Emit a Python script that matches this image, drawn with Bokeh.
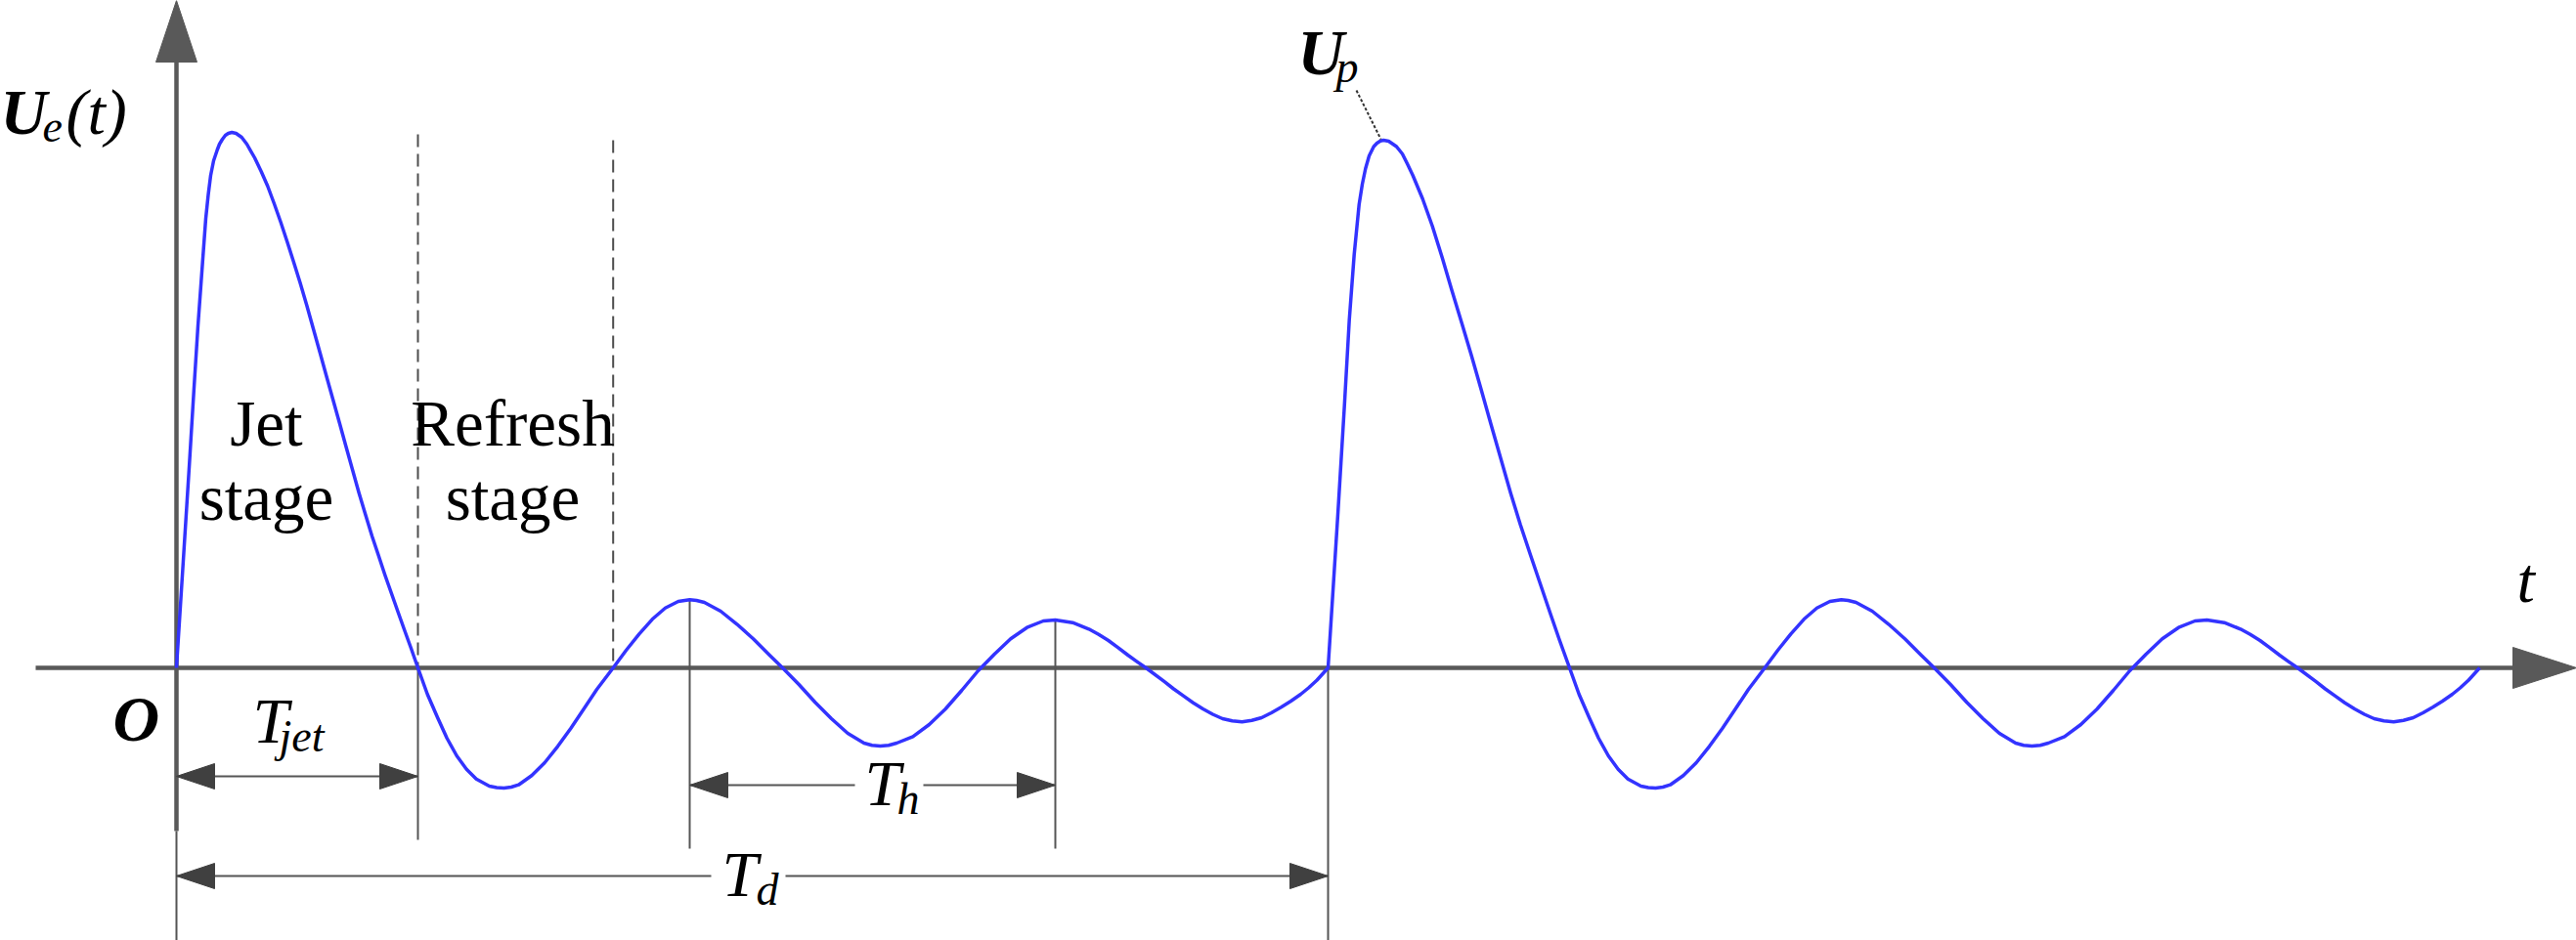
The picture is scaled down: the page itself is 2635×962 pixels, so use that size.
import numpy as np
from bokeh.plotting import figure
from bokeh.models import Range1d
from bokeh.core.properties import value
from bokeh.embed import file_html
from bokeh.resources import INLINE

# ---- data (t: time, arbitrary units; U: exit velocity, arbitrary units) ----
pulse1_t = [0, 7, 13, 18, 22, 26.7, 30, 32.5, 35, 38, 41.7, 44, 47, 50, 53, 56.7, 61, 66.7,
            72, 80, 86.7, 93.3, 100, 106.7, 113.3, 120, 126.7, 133.3, 140, 146.7, 153.3,
            160, 166.7, 173.3, 180, 186.7, 193.3, 200, 206.7, 213.3, 220, 226.7, 233.3,
            240, 247]
pulse1_u = [0, 110, 205, 287, 350, 415, 460, 484, 504, 519, 530, 536, 541, 545, 547, 548, 547, 543,
            536, 522, 508, 493, 475, 456, 436, 415, 393.5, 371, 347, 323, 299,
            275, 251, 227, 203, 179, 157, 135, 115, 95, 76, 57, 38.5,
            20, 0]

pulse2_t = [0, 10, 16.7, 21.7, 26.7, 31.7, 35, 38.3, 42, 46.7, 50, 53.5, 56.7, 62, 70, 76,
            81, 86.7, 96.7, 106.7, 116.7, 126.7, 136.7, 146.7, 156.7, 166.7, 176.7, 186.7,
            196.7, 206.7, 216.7, 226.7, 236.7, 247]
pulse2_u = [0, 157, 268, 356, 423, 474, 495, 511, 524, 533.5, 537, 539.3, 540, 539, 533.5, 526,
            516, 504, 480, 452, 420, 386, 353, 319.5, 284.5, 249, 214, 179,
            146.5, 116.5, 87, 57.5, 28.5, 0]

osc_t = [247, 256.7, 266.7, 276.7, 286.7, 296.7, 306.7, 320, 327.5, 335, 342.5, 350, 363.3,
         376.7, 390, 403.3, 416.7, 430, 446.7, 460, 473.3, 486.7, 500, 513.3, 525, 532, 540,
         556.7, 573.3, 590, 606.7, 620, 636.7, 653.3, 670, 686.7, 703.3, 711.5, 720, 728.5,
         736.7, 753.3, 770, 786.7, 803.3, 820, 836.7, 853.3, 870, 886.7, 899, 916.7, 933.3,
         943.3, 953.3, 963.3, 973.3, 982.5, 991.7, 1010, 1020, 1030, 1040, 1050, 1060, 1070,
         1080, 1090, 1100, 1110, 1120, 1130, 1140, 1150, 1158, 1166.7, 1178]
osc_u = [0, -27, -50, -72, -90, -103.7, -113.7, -121, -122.5, -123, -122, -119.7, -110.3,
         -97, -80.3, -62, -42, -22, 0, 18, 34.7, 49.7, 61.3, 68, 69.7, 69, 67,
         58, 44.7, 29.7, 13, 0, -17, -35.3, -52, -67, -77, -79.2, -80, -79.2,
         -77, -70.3, -58, -42, -23, -3, 14, 29.7, 41.3, 48, 49, 46.3, 39.7,
         34.2, 28, 20.7, 13, 6.4, 0, -13.7, -21.5, -28.7, -35.7, -42, -47.5, -52,
         -54.3, -55.3, -53.7, -51, -46, -40.3, -34, -27, -20.5, -12.5, 0]

T_JET = 247          # end of jet stage
T_REFRESH = 446.7    # end of refresh stage
T_H_START = 525      # first oscillation peak
T_H_END = 899        # second oscillation peak
T_D = 1178           # driving period

# ---- assemble the curve (two driving periods) ----
curve_t = (pulse1_t + osc_t[1:] + [T_D + v for v in pulse2_t[1:]] + [T_D + v for v in osc_t[1:]])
curve_u = (pulse1_u + osc_u[1:] + pulse2_u[1:] + osc_u[1:])

FONT = value("Liberation Serif")
AX = "#595959"
THIN = "#555555"
HEAD = "#404040"

p = figure(width=2635, height=962, output_backend="svg", toolbar_location=None,
           x_range=Range1d(-180, 2455), y_range=Range1d(-279, 683),
           x_axis_type=None, y_axis_type=None, min_border=0)
p.grid.visible = False
p.outline_line_color = None
p.background_fill_color = "white"
p.border_fill_color = "white"

# ---- axes ----
p.segment(x0=[-144], y0=[0], x1=[2390], y1=[0], line_color=AX, line_width=4.5)
p.patch(x=[2390, 2455, 2390], y=[21, 0, -21], fill_color=AX, line_color=AX)
p.segment(x0=[0], y0=[-167], x1=[0], y1=[620], line_color=AX, line_width=4.5)
p.patch(x=[-21, 0, 21], y=[620, 683, 620], fill_color=AX, line_color=AX)
p.segment(x0=[0], y0=[-167], x1=[0], y1=[-279], line_color=THIN, line_width=2)

# ---- stage separators ----
p.segment(x0=[T_JET, T_REFRESH], y0=[546, 540], x1=[T_JET, T_REFRESH], y1=[0, 0],
          line_color="#4d4d4d", line_width=2, line_dash="13 7")

# ---- extension lines ----
u_h0 = float(np.interp(T_H_START, osc_t, osc_u))
u_h1 = float(np.interp(T_H_END, osc_t, osc_u))
p.segment(x0=[T_JET, T_H_START, T_H_END, T_D], y0=[0, u_h0, u_h1, 0],
          x1=[T_JET, T_H_START, T_H_END, T_D], y1=[-176, -185, -185, -279],
          line_color=THIN, line_width=2)

# ---- dimension arrows ----
def dim(x0, x1, y, gap=None):
    if gap is None:
        p.segment(x0=[x0], y0=[y], x1=[x1], y1=[y], line_color=THIN, line_width=2)
    else:
        p.segment(x0=[x0, gap[1]], y0=[y, y], x1=[gap[0], x1], y1=[y, y],
                  line_color=THIN, line_width=2)
    L, H = 39, 13
    p.patches(xs=[[x0, x0 + L, x0 + L], [x1, x1 - L, x1 - L]],
              ys=[[y, y + H, y - H], [y, y + H, y - H]],
              fill_color=HEAD, line_color=HEAD)

dim(0, T_JET, -111)
dim(T_H_START, T_H_END, -120, gap=(694, 764))
dim(0, T_D, -213, gap=(547, 623))

# ---- waveform ----
p.line(curve_t, curve_u, line_color="#3333ff", line_width=3.5, line_join="round")

# ---- Up leader ----
p.segment(x0=[1207], y0=[591], x1=[1232], y1=[541], line_color="#333333",
          line_width=2, line_dash="3 2")

# ---- texts ----
def txt(x, y, s, size, style="italic", align="left"):
    p.text(x=[x], y=[y + 0.3 * size], text=[s], text_font=FONT, text_font_size=f"{size}px",
           text_font_style=style, text_align=align, text_baseline="alphabetic",
           text_color="black")

txt(-180, 549, "U", 66, "bold italic")
txt(-137, 540, "e", 46)
txt(-113, 549, "(t)", 66)

txt(1147, 610, "U", 66, "bold italic")
txt(1186, 601, "p", 46)

txt(-65, -72, "O", 66, "bold italic")

txt(78, -74, "T", 66)
txt(105, -84, "jet", 46)

txt(704, -138, "T", 66)
txt(737, -148, "h", 46)

txt(558, -231, "T", 66)
txt(593, -241, "d", 46)

txt(2394, 70, "t", 66)

txt(92, 230, "Jet", 67, "normal", "center")
txt(92, 154, "stage", 67, "normal", "center")
txt(344, 230, "Refresh", 67, "normal", "center")
txt(344, 154, "stage", 67, "normal", "center")

open("out.html", "w").write(file_html(p, INLINE))
